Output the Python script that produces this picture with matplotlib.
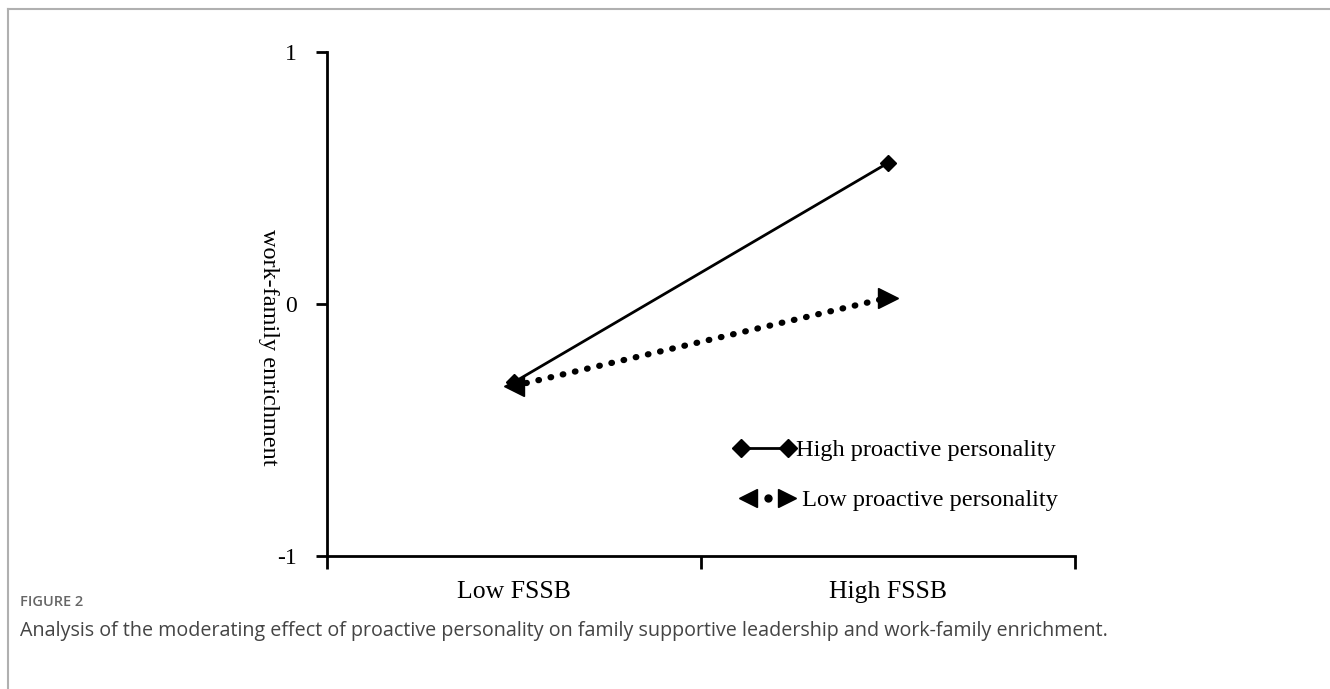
import matplotlib.pyplot as plt
from matplotlib.lines import Line2D
from matplotlib.legend_handler import HandlerBase

# data
categories = ["Low FSSB", "High FSSB"]
x_pos = [0.5, 1.5]
high_pp = [-0.31, 0.56]
low_pp = [-0.325, 0.025]
series_names = ["High proactive personality", " Low proactive personality"]
y_ticks = [-1, 0, 1]

serif = ["Liberation Serif", "DejaVu Serif"]
dots = (0, (0.1, 1.9))


class LowHandler(HandlerBase):
    # triangle, dot, triangle like the original legend key
    def create_artists(self, legend, orig_handle, xdescent, ydescent,
                       width, height, fontsize, trans):
        y = height / 2 - ydescent
        x0 = -xdescent
        parts = [("<", 13, 0.24), ("o", 5, 0.56), (">", 13, 0.86)]
        arts = []
        for m, s, f in parts:
            a = Line2D([x0 + f * width], [y], ls="none", marker=m, ms=s,
                       color="black", transform=trans)
            arts.append(a)
        return arts


fig = plt.figure(figsize=(13.3, 6.89), dpi=100)
ax = fig.add_axes([0.2459, 0.193, 0.5624, 0.7315])

# high proactive personality: solid with diamonds
ax.plot(x_pos, high_pp, color="black", lw=2.0, solid_capstyle="butt", zorder=3)
ax.plot(x_pos, high_pp, ls="none", marker="D", ms=8.5, color="black", zorder=4)

# low proactive personality: dotted with triangles
ax.plot(x_pos, low_pp, color="black", lw=4.5, ls=dots,
        dash_capstyle="round", zorder=3)
ax.plot(x_pos[0], low_pp[0], ls="none", marker="<", ms=14, color="black", zorder=4)
ax.plot(x_pos[1], low_pp[1], ls="none", marker=">", ms=14, color="black", zorder=4)

ax.set_xlim(0, 2)
ax.set_ylim(-1, 1)
for side in ["top", "right"]:
    ax.spines[side].set_visible(False)
for side in ["left", "bottom"]:
    ax.spines[side].set_linewidth(2.0)

ax.set_yticks(y_ticks)
ax.set_yticklabels([str(v) for v in y_ticks], fontfamily=serif, fontsize=17)
ax.tick_params(axis="y", direction="out", length=8, width=2.0, pad=14)

ax.set_xticks([0, 1, 2])
ax.set_xticklabels([])
ax.tick_params(axis="x", which="major", direction="out", length=9, width=2.0)
ax.set_xticks(x_pos, minor=True)
ax.set_xticklabels(categories, minor=True, fontfamily=serif, fontsize=18.5)
ax.tick_params(axis="x", which="minor", length=0, pad=18)

fig.text(268 / 1330, 1 - 347 / 689, "work-family enrichment", rotation=270,
         ha="center", va="center", fontfamily=serif, fontsize=17.5)

# legend
h_high = Line2D([], [], color="black", lw=2.0, marker="D", ms=9)
h_low = Line2D([], [], color="black")
leg = ax.legend([h_high, h_low], series_names,
                loc="upper left", bbox_to_anchor=(0.543, 0.232), frameon=False,
                prop={"family": serif, "size": 17.6}, handlelength=2.55,
                handletextpad=0.0, labelspacing=1.15, numpoints=2,
                borderpad=0, borderaxespad=0,
                handler_map={h_low: LowHandler()})

# frame border of the figure page
fig.add_artist(Line2D([8 / 1330, 8 / 1330], [0, 1 - 9 / 689], color="#b0b0b0", lw=1.5))
fig.add_artist(Line2D([8 / 1330, 1], [1 - 9 / 689, 1 - 9 / 689], color="#b0b0b0", lw=1.5))

fig.text(20 / 1330, 1 - 602 / 689, "FIGURE 2", fontfamily="Open Sans",
         fontsize=10.5, fontweight="semibold", color="#666666", va="center")
fig.text(20 / 1330, 1 - 631 / 689,
         "Analysis of the moderating effect of proactive personality on family "
         "supportive leadership and work-family enrichment.",
         fontfamily="Open Sans", fontsize=14.2, color="#444444", va="center")

fig.savefig("out.png", dpi=100)
